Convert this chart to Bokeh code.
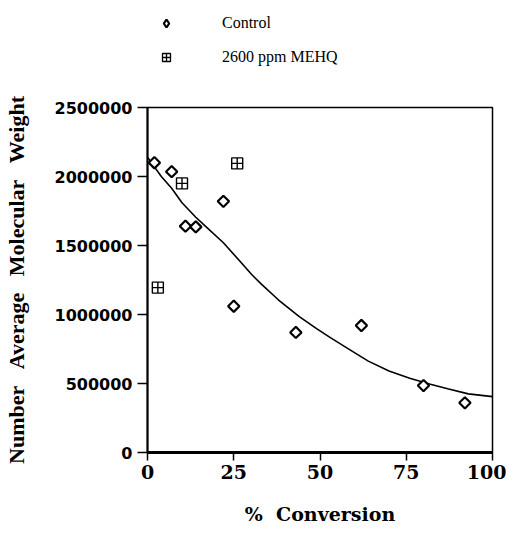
import numpy as np
from bokeh.plotting import figure
from bokeh.layouts import column
from bokeh.models import (ColumnDataSource, Legend, LegendItem, FixedTicker,
                          BasicTickFormatter, Range1d)
from bokeh.embed import file_html
from bokeh.resources import INLINE

# --- data ---
control_x = [2, 7, 11, 14, 22, 25, 43, 62, 80, 92]
control_y = [2100000, 2035000, 1640000, 1635000, 1820000, 1060000, 870000, 920000, 485000, 360000]

mehq_x = [3, 10, 26]
mehq_y = [1195000, 1950000, 2095000]

fit_x = [0, 4, 7, 10, 14, 17, 22, 27, 30, 33, 38, 44, 49, 53, 58, 64, 70, 76, 82, 87, 93, 100]
fit_y = [2140000, 2000000, 1915000, 1810000, 1705000, 1635000, 1520000, 1380000, 1295000,
         1220000, 1105000, 985000, 898000, 832000, 755000, 662000, 590000, 538000,
         495000, 462000, 425000, 405000]

x_ticks = [0, 25, 50, 75, 100]
y_ticks = [0, 500000, 1000000, 1500000, 2000000, 2500000]
series_labels = ["Control", "2600 ppm MEHQ"]

src_c = ColumnDataSource(dict(x=control_x, y=control_y))
src_m = ColumnDataSource(dict(x=mehq_x, y=mehq_y))

# ---------------- legend strip (top) ----------------
# its ranges lie away from the data, so only the legend itself shows
leg = figure(width=506, height=80, output_backend="svg", toolbar_location=None,
             x_range=Range1d(-20, -10), y_range=Range1d(-20, -10),
             min_border=0, min_border_left=0, min_border_right=0,
             min_border_top=0, min_border_bottom=0)
leg.axis.visible = False
leg.grid.visible = False
leg.outline_line_color = None
leg.background_fill_color = "white"
leg.border_fill_color = "white"
lc = leg.scatter("x", "y", source=src_c, marker="diamond",
                 fill_color="white", line_color="black", line_width=2.2)
lm = leg.scatter("x", "y", source=src_m, marker="square_cross",
                 fill_color="white", line_color="black", line_width=1.3)
legend = Legend(items=[LegendItem(label=series_labels[0], renderers=[lc]),
                       LegendItem(label=series_labels[1], renderers=[lm])],
                location=(9, 13), orientation="vertical")
legend.padding = 0
legend.margin = 0
legend.spacing = 14
legend.glyph_width = 20
legend.glyph_height = 20
legend.label_height = 20
legend.label_standoff = 46
legend.label_text_font = "Liberation Serif"
legend.label_text_font_size = "16px"
legend.label_text_color = "black"
legend.border_line_color = None
legend.background_fill_alpha = 0
leg.add_layout(legend, "center")

# ---------------- main plot ----------------
p = figure(width=506, height=447, output_backend="svg", toolbar_location=None,
           x_range=Range1d(0, 100), y_range=Range1d(0, 2500000),
           min_border_left=146, min_border_right=14, min_border_top=27, min_border_bottom=72)

p.xgrid.visible = False
p.ygrid.visible = False
p.outline_line_color = "black"
p.outline_line_width = 1.5
p.background_fill_color = "white"
p.border_fill_color = "white"

p.line(fit_x, fit_y, line_color="black", line_width=1.6)

p.scatter("x", "y", source=src_c, marker="square", angle=np.pi / 4, size=8,
          fill_color="white", line_color="black", line_width=2.2)
p.scatter("x", "y", source=src_m, marker="square_cross", size=11,
          fill_color="white", line_color="black", line_width=1.4)

p.xaxis.ticker = FixedTicker(ticks=x_ticks)
p.yaxis.ticker = FixedTicker(ticks=y_ticks)
p.yaxis.formatter = BasicTickFormatter(use_scientific=False)
for ax in (p.xaxis[0], p.yaxis[0]):
    ax.axis_line_color = "black"
    ax.major_tick_line_color = "black"
    ax.major_tick_line_width = 1.5
    ax.minor_tick_line_color = None
    ax.major_tick_in = 0
    ax.axis_label_text_font_style = "bold"
    ax.axis_label_text_color = "black"
    ax.major_label_text_color = "black"
    ax.major_label_text_font_style = "bold"

p.xaxis.axis_line_width = 3
p.yaxis.axis_line_width = 2
p.xaxis.major_tick_out = 8
p.yaxis.major_tick_out = 10

p.xaxis.major_label_text_font = "DejaVu Serif"
p.xaxis.major_label_text_font_size = "19px"
p.xaxis.major_label_standoff = 4
p.yaxis.major_label_text_font = "DejaVu Sans"
p.yaxis.major_label_text_font_size = "16px"
p.yaxis.major_label_standoff = 5

p.xaxis.axis_label = "%\u00a0 Conversion"
p.xaxis.axis_label_text_font = "DejaVu Serif"
p.xaxis.axis_label_text_font_size = "19px"
p.xaxis.axis_label_standoff = 21

p.yaxis.axis_label = "Number\u00a0 \u00a0Average\u00a0 \u00a0Molecular\u00a0 \u00a0Weight"
p.yaxis.axis_label_text_font = "Liberation Serif"
p.yaxis.axis_label_text_font_size = "22px"
p.yaxis.axis_label_standoff = 23

layout = column(leg, p, spacing=0)
open("out.html", "w").write(file_html(layout, INLINE))
